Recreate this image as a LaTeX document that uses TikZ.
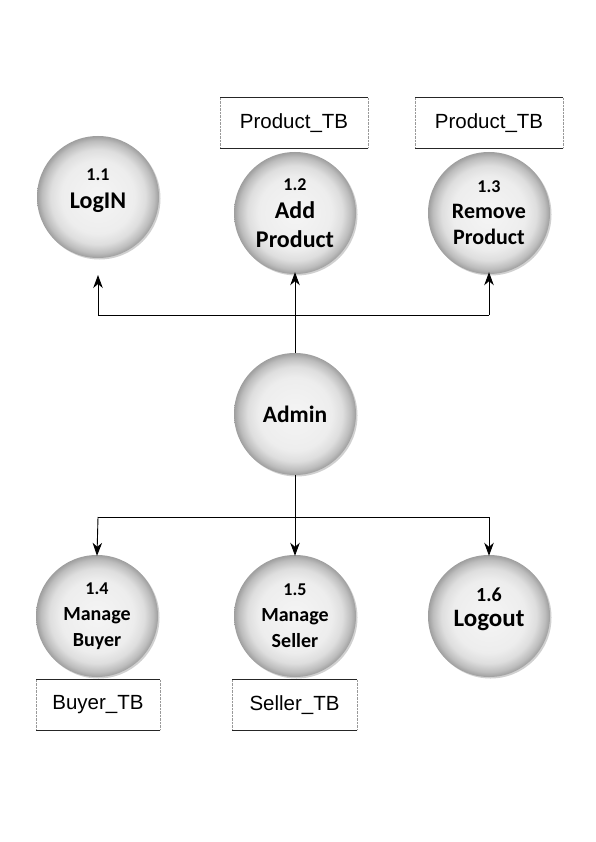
\documentclass[tikz,border=0pt]{standalone}
\usepackage{fontspec}
\setmainfont{Carlito}
\newfontfamily\arialf{Liberation Sans}
\usetikzlibrary{arrows.meta,shadows}
\pgfdeclareradialshading{ballshade}{\pgfpoint{0bp}{0bp}}{color(0bp)=(black!4); color(15bp)=(black!7); color(19.5bp)=(black!13); color(23bp)=(black!26); color(25bp)=(black!38); color(50bp)=(black!38)}
\newcommand{\fs}[2]{\fontsize{#1}{#2}\selectfont}
\tikzset{
  proc/.style={circle, minimum size=122pt, inner sep=0pt, shading=ballshade,
    drop shadow={shadow xshift=1.5pt, shadow yshift=-1.5pt, opacity=0.3, fill=black!60},
    align=center, text=black},
  store/.style={minimum width=#1, minimum height=50pt, inner sep=0pt, font=\arialf\fs{20.5}{24}},
  storeline/.style={line width=1.1pt, black!85},
  storeside/.style={densely dotted, line width=0.4pt, black!40},
  flow/.style={line width=0.9pt, -{Stealth[length=13pt,width=9.5pt,inset=4pt]}},
  plain/.style={line width=0.9pt}
}
\begin{document}
\begin{tikzpicture}[x=1pt,y=-1pt]
\useasboundingbox (0,0) rectangle (595,842);
\fill[white] (0,0) rectangle (595,842);

% data stores
\node[store=147pt] (ps1) at (294,123) {Product\_TB};
\node[store=147pt] (ps2) at (489,123) {Product\_TB};
\node[store=123pt] (bs) at (98,705) {Buyer\_TB};
\node[store=124pt] (ss) at (294.5,705) {Seller\_TB};
\foreach \s in {ps1,ps2,bs,ss}{
  \draw[storeside] (\s.north west) -- (\s.south west);
  \draw[storeside] (\s.north east) -- (\s.south east);
  \draw[storeline] (\s.north west) -- (\s.north east);
  \draw[storeline] (\s.south west) -- (\s.south east);
}

% processes
\node[proc, font=\bfseries\fs{24}{28}, text depth=16pt] (p11) at (98,197) {\fs{18}{28}1.1\\LogIN};
\node[proc, font=\bfseries\fs{24}{28.5}] (p12) at (295,213) {\fs{18}{28.5}1.2\\Add\\Product};
\node[proc, font=\bfseries\fs{22}{26}] (p13) at (489,213) {\fs{18}{26}1.3\\Remove\\Product};
\node[proc, font=\bfseries\fs{23.5}{28}] (adm) at (295,414) {Admin};
\node[proc, font=\bfseries\fs{20}{26}] (p14) at (97,616) {\fs{18}{27}1.4\\Manage\\Buyer};
\node[proc, font=\bfseries\fs{20}{26}] (p15) at (295,616) {\fs{18}{27}1.5\\Manage\\Seller};
\node[proc, font=\bfseries\fs{25}{25}, text depth=18pt] (p16) at (489,616) {\fs{20}{25}1.6\\Logout};

% connectors
\coordinate (tl) at (98,315);
\coordinate (tm) at (295,315);
\coordinate (tr) at (489,315);
\coordinate (bl) at (98,517);
\coordinate (bm) at (295,517);
\coordinate (br) at (489,517);
\draw[plain] (tl) -- (tr);
\draw[plain] (adm.north) -- (tm);
\draw[flow] (tm) -- ([yshift=2pt]p12.south);
\draw[flow] (tl) -- (98,275);
\draw[flow] (tr) -- ([yshift=2pt]p13.south);
\draw[plain] (bl) -- (br);
\draw[plain] (adm.south) -- (bm);
\draw[flow] (bl) -- ([yshift=-1pt]p14.north);
\draw[flow] (bm) -- ([yshift=-1pt]p15.north);
\draw[flow] (br) -- ([yshift=-1pt]p16.north);
\end{tikzpicture}
\end{document}
